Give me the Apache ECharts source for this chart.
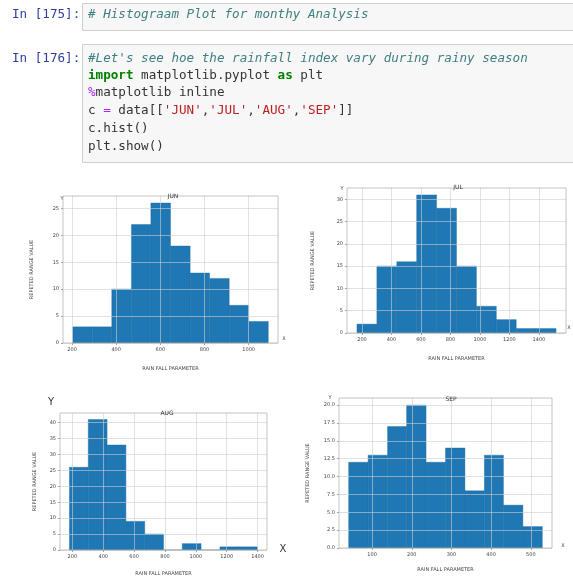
<!DOCTYPE html>
<html>
<head>
<meta charset="utf-8">
<script src="https://cdn.jsdelivr.net/npm/echarts@6/dist/echarts.min.js"></script>
<style>
html,body{margin:0;padding:0;background:#fff;}
#chart{width:573px;height:577px;}
</style>
</head>
<body>
<div id="chart"></div>
<script>
// ---- data ----
var months = ['JUN', 'JUL', 'AUG', 'SEP'];

var junEdges = [203, 292, 380, 469, 557, 646, 735, 823, 912, 1000, 1089];
var junCounts = [3, 3, 10, 22, 26, 18, 13, 12, 7, 4];

var julEdges = [166, 301, 436, 571, 706, 841, 976, 1111, 1246, 1381, 1516];
var julCounts = [2, 15, 16, 31, 28, 15, 6, 3, 1, 1];

var augEdges = [181, 303, 425, 547, 669, 791, 912, 1034, 1156, 1278, 1400];
var augCounts = [26, 41, 33, 9, 5, 0, 2, 0, 1, 1];

var sepEdges = [41, 90, 139, 187, 236, 285, 334, 383, 431, 480, 529];
var sepCounts = [12, 13, 17, 20, 12, 14, 8, 13, 6, 3];

var junXTicks = [200, 400, 600, 800, 1000];
var julXTicks = [200, 400, 600, 800, 1000, 1200, 1400];
var augXTicks = [200, 400, 600, 800, 1000, 1200, 1400];
var sepXTicks = [100, 200, 300, 400, 500];

var junYTicks = [0, 5, 10, 15, 20, 25];
var julYTicks = [0, 5, 10, 15, 20, 25, 30];
var augYTicks = [0, 5, 10, 15, 20, 25, 30, 35, 40];
var sepYTicks = [0, 2.5, 5, 7.5, 10, 12.5, 15, 17.5, 20];

var yAxisTitle = 'REPETED RANGE VALUE';
var xAxisTitle = 'RAIN FALL PARAMETER';

// ---- layout ----
var panels = [
  {edges: junEdges, counts: junCounts, xt: junXTicks, yt: junYTicks, xmin: 159, xmax: 1133, ymax: 27.3,
   grid: {left: 63, top: 196, width: 215, height: 147}, yGap: 29, xGap: 23, title: [168, 188], dec: 0},
  {edges: julEdges, counts: julCounts, xt: julXTicks, yt: julYTicks, xmin: 98.5, xmax: 1583.5, ymax: 32.55,
   grid: {left: 347, top: 188, width: 219, height: 145}, yGap: 32, xGap: 23, title: [453, 179], dec: 0},
  {edges: augEdges, counts: augCounts, xt: augXTicks, yt: augYTicks, xmin: 120, xmax: 1461, ymax: 43.05,
   grid: {left: 60, top: 413, width: 207, height: 143}, yGap: 23, xGap: 21, title: [162, 405], dec: 0},
  {edges: sepEdges, counts: sepCounts, xt: sepXTicks, yt: sepYTicks, xmin: 16.6, xmax: 553.4, ymax: 21,
   grid: {left: 339, top: 398, width: 213, height: 150}, yGap: 29, xGap: 19, title: [446, 391], dec: 1}
];

var grids = [], xAxes = [], yAxes = [], series = [], titles = [];
panels.forEach(function (p, i) {
  grids.push({left: p.grid.left, top: p.grid.top, width: p.grid.width, height: p.grid.height,
    show: true, borderColor: '#b9b2aa', borderWidth: 0.8, backgroundColor: 'transparent', z: 6});
  xAxes.push({type: 'value', gridIndex: i, min: p.xmin, max: p.xmax, z: 5,
    name: xAxisTitle, nameLocation: 'middle', nameGap: p.xGap,
    nameTextStyle: {fontSize: 5, color: '#444', fontFamily: 'DejaVu Sans'},
    axisLine: {show: false},
    axisTick: {show: true, length: 2, lineStyle: {color: '#666', width: 0.6}, customValues: p.xt},
    axisLabel: {fontSize: 5, color: '#444', margin: 4, fontFamily: 'DejaVu Sans', customValues: p.xt,
      formatter: function (v) { return String(v); }},
    splitLine: {show: true, lineStyle: {color: '#cfcfcf', width: 0.6}}
  });
  yAxes.push({type: 'value', gridIndex: i, min: 0, max: p.ymax, z: 5,
    name: yAxisTitle, nameLocation: 'middle', nameGap: p.yGap, nameRotate: 90,
    nameTextStyle: {fontSize: 5, color: '#444', fontFamily: 'DejaVu Sans'},
    axisLine: {show: false},
    axisTick: {show: true, length: 2, lineStyle: {color: '#666', width: 0.6}, customValues: p.yt},
    axisLabel: {fontSize: 5, color: '#444', margin: 4, fontFamily: 'DejaVu Sans', customValues: p.yt,
      formatter: (function (d) { return function (v) { return Number(v).toFixed(d); }; })(p.dec)},
    splitLine: {show: true, lineStyle: {color: '#cfcfcf', width: 0.6}}
  });
  var data = [];
  for (var k = 0; k < p.counts.length; k++) {
    data.push([p.edges[k], p.edges[k + 1], p.counts[k]]);
  }
  series.push({
    type: 'custom', xAxisIndex: i, yAxisIndex: i, z: 2,
    encode: {x: [0, 1], y: 2},
    data: data,
    renderItem: function (params, api) {
      var a = api.coord([api.value(0), 0]);
      var b = api.coord([api.value(1), api.value(2)]);
      return {type: 'rect', shape: {x: a[0], y: b[1], width: b[0] - a[0], height: a[1] - b[1]},
        style: {fill: '#1f77b4', stroke: '#1b6aa1', lineWidth: 0.4}};
    }
  });
  titles.push({text: months[i], left: p.title[0], top: p.title[1], textAlign: 'center',
    textStyle: {fontSize: 6, fontWeight: 'normal', color: '#333', fontFamily: 'DejaVu Sans'}});
});

// ---- notebook cells ----
var mono = 'DejaVu Sans Mono';
var fs = 12.6;
var rich = {
  c: {fontFamily: mono, fontSize: fs, fontStyle: 'italic', fill: '#408080'},
  k: {fontFamily: mono, fontSize: fs, fontWeight: 'bold', fill: '#008000'},
  m: {fontFamily: mono, fontSize: fs, fill: '#AA22FF'},
  s: {fontFamily: mono, fontSize: fs, fill: '#BA2121'},
  n: {fontFamily: mono, fontSize: fs, fill: '#333333'}
};
var codeLines = [
  "{c|#Let's see hoe the rainfall index vary during rainy season}",
  "{k|import}{n| matplotlib.pyplot }{k|as}{n| plt}",
  "{m|%}{n|matplotlib inline}",
  "{n|c }{m|=}{n| data[[}{s|'JUN'}{n|,}{s|'JUL'}{n|,}{s|'AUG'}{n|,}{s|'SEP'}{n|]]}",
  "{n|c.hist()}",
  "{n|plt.show()}"
];
var lineY = [59, 76, 93, 111, 129, 147];

var graphics = [
  {type: 'rect', shape: {x: 82.5, y: 3.5, width: 500, height: 27}, style: {fill: '#f7f7f7', stroke: '#cfcfcf', lineWidth: 1}},
  {type: 'rect', shape: {x: 82.5, y: 44.5, width: 500, height: 118}, style: {fill: '#f7f7f7', stroke: '#cfcfcf', lineWidth: 1}},
  {type: 'text', x: 12, y: 15, style: {text: 'In [175]:', fontFamily: mono, fontSize: fs, fill: '#303F9F', verticalAlign: 'middle'}},
  {type: 'text', x: 88, y: 15, style: {text: '{c|# Histograam Plot for monthy Analysis}', rich: rich, verticalAlign: 'middle'}},
  {type: 'text', x: 12, y: 59, style: {text: 'In [176]:', fontFamily: mono, fontSize: fs, fill: '#303F9F', verticalAlign: 'middle'}}
];
codeLines.forEach(function (t, i) {
  graphics.push({type: 'text', x: 88, y: lineY[i], style: {text: t, rich: rich, verticalAlign: 'middle'}});
});
// axis end markers
graphics.push({type: 'text', x: 62, y: 199, style: {text: 'Y', fontSize: 5, fill: '#444', align: 'center', verticalAlign: 'middle', fontFamily: 'DejaVu Sans'}});
graphics.push({type: 'text', x: 284, y: 339, style: {text: 'X', fontSize: 5, fill: '#444', align: 'center', verticalAlign: 'middle', fontFamily: 'DejaVu Sans'}});
graphics.push({type: 'text', x: 342, y: 189, style: {text: 'Y', fontSize: 5, fill: '#444', align: 'center', verticalAlign: 'middle', fontFamily: 'DejaVu Sans'}});
graphics.push({type: 'text', x: 569, y: 328, style: {text: 'X', fontSize: 5, fill: '#444', align: 'center', verticalAlign: 'middle', fontFamily: 'DejaVu Sans'}});
graphics.push({type: 'text', x: 51, y: 402, style: {text: 'Y', fontSize: 10, fill: '#333', align: 'center', verticalAlign: 'middle', fontFamily: 'DejaVu Sans'}});
graphics.push({type: 'text', x: 283, y: 549, style: {text: 'X', fontSize: 10, fill: '#333', align: 'center', verticalAlign: 'middle', fontFamily: 'DejaVu Sans'}});
graphics.push({type: 'text', x: 330, y: 398, style: {text: 'Y', fontSize: 5, fill: '#444', align: 'center', verticalAlign: 'middle', fontFamily: 'DejaVu Sans'}});
graphics.push({type: 'text', x: 563, y: 546, style: {text: 'X', fontSize: 5, fill: '#444', align: 'center', verticalAlign: 'middle', fontFamily: 'DejaVu Sans'}});

var chart = echarts.init(document.getElementById('chart'), null, {renderer: 'canvas'});
chart.setOption({
  backgroundColor: '#ffffff',
  animation: false,
  title: titles,
  grid: grids,
  xAxis: xAxes,
  yAxis: yAxes,
  series: series,
  graphic: graphics
});
</script>
</body>
</html>
